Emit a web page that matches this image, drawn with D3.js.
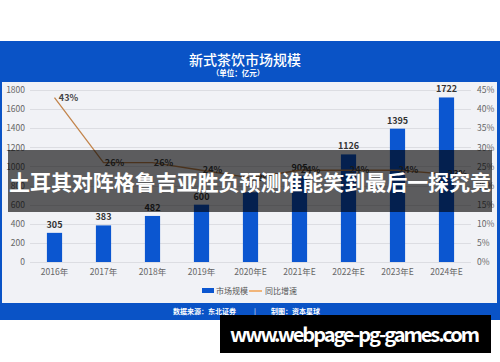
<!doctype html>
<html>

<head>
    <meta charset="utf-8">
    <style>
        body {
            margin: 0;
            background: #fff;
        }

        text {
            font-family: "Noto Sans CJK SC", "Noto Sans", sans-serif;
        }

        .grid line {
            stroke: #dcdde2;
            shape-rendering: crispEdges;
        }

        .axis path {
            display: none;
        }

        .axis text {
            font-size: 8.5px;
            fill: #666;
        }
    </style>
    <script src="https://d3js.org/d3.v7.min.js"></script>
</head>

<body>
    <script>
        // chart values
        const years = ["2016年", "2017年", "2018年", "2019年", "2020年E", "2021年E", "2022年E", "2023年E", "2024年E"]
        const marketSize = [305, 383, 482, 600, 730, 905, 1126, 1395, 1722]
        const growthRate = [43, 26, 26, 24, 22, 24, 24, 24, 23]
        const sizeTicks = [0, 200, 400, 600, 800, 1000, 1200, 1400, 1600, 1800]
        const rateTicks = [0, 5, 10, 15, 20, 25, 30, 35, 40, 45]

        const blue = "#0a53c6"
        const barBlue = "#0b56d0"
        const lineColor = "#c3854c"

        const svg = d3.select("body").append("svg")
            .attr("width", 500)
            .attr("height", 362)

        // blue frame, header and footer
        svg.append("rect")
            .attr("x", 0).attr("y", 41)
            .attr("width", 500).attr("height", 279)
            .attr("fill", blue)
        svg.append("rect")
            .attr("x", 2).attr("y", 82)
            .attr("width", 495).attr("height", 221)
            .attr("fill", "#f1f2f6")

        svg.append("text")
            .attr("x", 245).attr("y", 65)
            .attr("text-anchor", "middle")
            .attr("fill", "#fff")
            .attr("font-size", 14)
            .attr("font-weight", 500)
            .text("新式茶饮市场规模")
        svg.append("text")
            .attr("x", 238).attr("y", 76)
            .attr("text-anchor", "middle")
            .attr("fill", "#fff")
            .attr("font-size", 7.5)
            .attr("font-weight", "bold")
            .text("（单位：亿元）")

        svg.append("text")
            .attr("x", 173).attr("y", 314)
            .attr("fill", "#fff")
            .attr("font-size", 7)
            .attr("font-weight", "bold")
            .text("数据来源：东北证券")
        svg.append("text")
            .attr("x", 254).attr("y", 314)
            .attr("fill", "#fff")
            .attr("font-size", 7)
            .text("|")
        svg.append("text")
            .attr("x", 271).attr("y", 314)
            .attr("fill", "#fff")
            .attr("font-size", 7)
            .attr("font-weight", "bold")
            .text("制图：资本星球")

        // scales
        const x = d3.scaleBand()
            .domain(years)
            .range([30, 471])
            .paddingInner(0.69)
            .paddingOuter(0.345)

        const ySize = d3.scaleLinear()
            .domain([0, 1800])
            .range([262, 90])

        const yRate = d3.scaleLinear()
            .domain([0, 45])
            .range([262, 90])

        // axes + grid
        svg.append("g")
            .attr("class", "axis grid")
            .attr("transform", "translate(30,0)")
            .call(d3.axisLeft(ySize).tickValues(sizeTicks).tickSize(-441).tickPadding(5).tickFormat(d => d))

        svg.append("g")
            .attr("class", "axis")
            .attr("transform", "translate(471,0)")
            .call(d3.axisRight(yRate).tickValues(rateTicks).tickSize(0).tickPadding(6).tickFormat(d => d + "%"))

        svg.append("g")
            .attr("class", "axis")
            .attr("transform", "translate(0,262)")
            .call(d3.axisBottom(x).tickSize(0).tickPadding(7))

        // bars
        svg.append("g")
            .selectAll("rect")
            .data(marketSize)
            .enter()
            .append("rect")
            .attr("x", (d, i) => x(years[i]))
            .attr("y", d => ySize(d))
            .attr("width", x.bandwidth())
            .attr("height", d => ySize(0) - ySize(d))
            .attr("fill", barBlue)

        svg.append("g")
            .selectAll("text")
            .data(marketSize)
            .enter()
            .append("text")
            .attr("x", (d, i) => x(years[i]) + x.bandwidth() / 2)
            .attr("y", d => ySize(d) - 5)
            .attr("text-anchor", "middle")
            .attr("font-size", 9)
            .attr("font-weight", "bold")
            .attr("fill", "#333")
            .text(d => d)

        // growth line
        const line = d3.line()
            .x((d, i) => x(years[i]) + x.bandwidth() / 2)
            .y(d => yRate(d))

        svg.append("path")
            .datum(growthRate)
            .attr("d", line)
            .attr("fill", "none")
            .attr("stroke", lineColor)
            .attr("stroke-width", 1.3)

        svg.append("g")
            .selectAll("text")
            .data(growthRate)
            .enter()
            .append("text")
            .attr("x", (d, i) => x(years[i]) + x.bandwidth() / 2 + (i == 0 ? 14 : 11))
            .attr("y", d => yRate(d) + 3)
            .attr("text-anchor", "middle")
            .attr("font-size", 9)
            .attr("font-weight", "bold")
            .attr("fill", "#444")
            .text(d => d + "%")

        // legend
        svg.append("rect")
            .attr("x", 202).attr("y", 288)
            .attr("width", 12).attr("height", 5)
            .attr("fill", barBlue)
        svg.append("text")
            .attr("x", 216).attr("y", 294)
            .attr("font-size", 8)
            .attr("fill", "#555")
            .text("市场规模")
        svg.append("line")
            .attr("x1", 249).attr("x2", 262)
            .attr("y1", 291).attr("y2", 291)
            .attr("stroke", "#f0a050")
            .attr("stroke-width", 1.5)
        svg.append("text")
            .attr("x", 265).attr("y", 294)
            .attr("font-size", 8)
            .attr("fill", "#555")
            .text("同比增速")

        // overlay banners
        svg.append("rect")
            .attr("x", 8).attr("y", 150)
            .attr("width", 484).attr("height", 62)
            .attr("fill", "rgba(0,0,0,0.62)")
        svg.append("text")
            .attr("x", 250).attr("y", 190)
            .attr("text-anchor", "middle")
            .attr("fill", "#fff")
            .attr("font-size", 21)
            .attr("font-weight", "bold")
            .attr("textLength", 482)
            .text("土耳其对阵格鲁吉亚胜负预测谁能笑到最后一探究竟")

        svg.append("rect")
            .attr("x", 220).attr("y", 315)
            .attr("width", 271).attr("height", 38)
            .attr("fill", "#000")
        svg.append("text")
            .attr("x", 230).attr("y", 342)
            .attr("fill", "#fff")
            .attr("font-size", 20)
            .attr("font-weight", "bold")
            .attr("textLength", 250)
            .text("www.webpage-pg-games.com")
    </script>
</body>

</html>
